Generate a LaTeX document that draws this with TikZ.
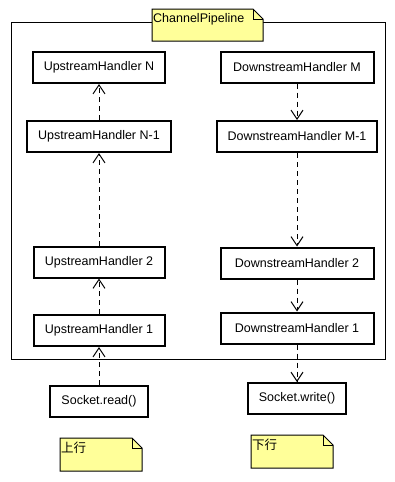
\documentclass[tikz,border=0pt]{standalone}
\usepackage{fontspec}
\setmainfont{Liberation Sans}
\newfontfamily\cjk{Noto Sans CJK SC}
\usetikzlibrary{arrows.meta}
\definecolor{notebg}{HTML}{FFFF99}

\tikzset{
  handler/.style={draw, line width=2pt, minimum height=31pt, inner xsep=11pt,
    font=\fontsize{12.5}{14}\selectfont},
  upbox/.style={handler, minimum width=131pt},
  downbox/.style={handler, minimum width=153pt},
  sockbox/.style={handler, minimum width=93pt},
  dep/.style={line width=1pt, dash pattern=on 5pt off 4pt,
    -{Straight Barb[length=9pt,width=12pt]}},
}

% yellow note with a folded corner: name, top left, width, height, text
\newcommand\umlnote[5]{%
  \filldraw[fill=notebg, line width=1pt] #2 -- ++({#3-10},0) -- ++(10,10)
    -- ++(0,{#4-10}) -- ++(-#3,0) -- cycle;
  \draw[line width=1pt] #2 ++({#3-10},0) -- ++(0,10) -- ++(10,0);
  \node[anchor=north west, inner xsep=1pt, inner ysep=4pt,
    font=\fontsize{12.5}{14}\selectfont] (#1) at #2 {#5};
}

\begin{document}
\begin{tikzpicture}[x=1pt, y=-1pt]
    \useasboundingbox (0,0) rectangle (394,482);

    % pipeline frame
    \draw[line width=1pt] (11,22) rectangle (385,359);
    \umlnote{pipe}{(152,9)}{111}{32}{ChannelPipeline}

    \path
    (99,67.5) node[upbox] (uhN) {UpstreamHandler N}
    (99,136.5) node[upbox] (uhN1) {UpstreamHandler N-1}
    (99,262) node[upbox] (uh2) {UpstreamHandler 2}
    (99,330.5) node[upbox] (uh1) {UpstreamHandler 1}
    (99,401.5) node[sockbox] (read) {Socket.read()}
    ;

    \path
    (297,67) node[downbox] (dhM) {DownstreamHandler M}
    (297,136.5) node[downbox] (dhM1) {DownstreamHandler M-1}
    (297,263) node[downbox] (dh2) {DownstreamHandler 2}
    (297,328) node[downbox] (dh1) {DownstreamHandler 1}
    (297,398.5) node[sockbox] (write) {Socket.write()}
    ;

    \draw[dep] (read) -- (uh1);
    \draw[dep] (uh1) -- (uh2);
    \draw[dep] (uh2) -- (uhN1);
    \draw[dep] (uhN1) -- (uhN);

    \draw[dep] (dhM) -- (dhM1);
    \draw[dep] (dhM1) -- (dh2);
    \draw[dep] (dh2) -- (dh1);
    \draw[dep] (dh1) -- (write);

    \umlnote{upnote}{(60,438)}{82}{33}{\cjk 上行}
    \umlnote{downnote}{(251,435)}{82}{33}{\cjk 下行}
  \end{tikzpicture}
\end{document}
